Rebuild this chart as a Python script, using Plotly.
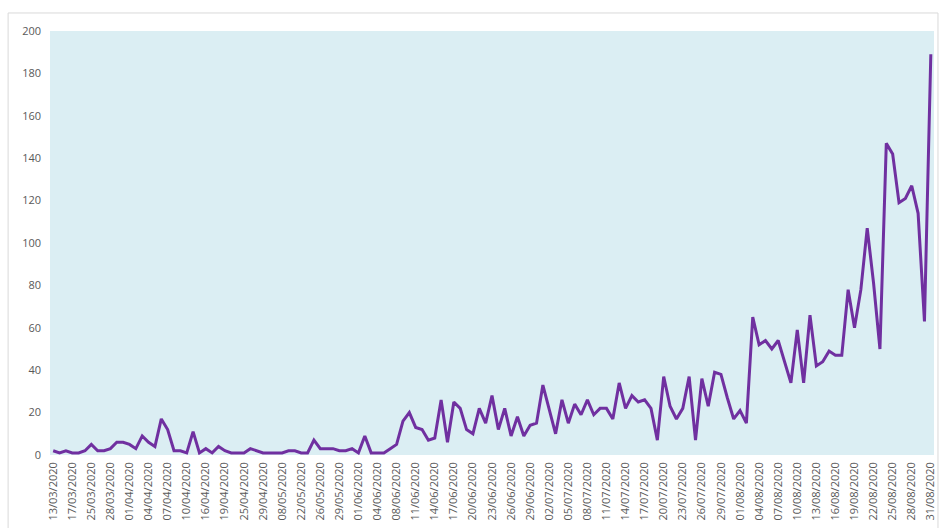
import pandas as pd
import plotly.graph_objects as go

# Reporting dates (irregular until early June, daily afterwards)
early_dates = [
    "13/03/2020", "14/03/2020", "16/03/2020", "17/03/2020", "20/03/2020", "23/03/2020",
    "25/03/2020", "26/03/2020", "27/03/2020", "28/03/2020", "29/03/2020", "31/03/2020",
    "01/04/2020", "02/04/2020", "03/04/2020", "04/04/2020", "05/04/2020", "06/04/2020",
    "07/04/2020", "08/04/2020", "09/04/2020", "10/04/2020", "12/04/2020", "14/04/2020",
    "16/04/2020", "17/04/2020", "18/04/2020", "19/04/2020", "21/04/2020", "23/04/2020",
    "25/04/2020", "26/04/2020", "28/04/2020", "29/04/2020", "02/05/2020", "05/05/2020",
    "08/05/2020", "12/05/2020", "17/05/2020", "22/05/2020", "23/05/2020", "25/05/2020",
    "26/05/2020", "27/05/2020", "28/05/2020", "29/05/2020", "30/05/2020", "31/05/2020",
    "01/06/2020", "02/06/2020", "03/06/2020", "04/06/2020", "05/06/2020", "07/06/2020",
]
daily_dates = [d.strftime("%d/%m/%Y") for d in pd.date_range("2020-06-08", "2020-08-31", freq="D")]
dates = early_dates + daily_dates

# Daily counts
counts = [
    2, 1, 2, 1, 1, 2, 5, 2, 2, 3,
    6, 6, 5, 3, 9, 6, 4, 17, 12, 2,
    2, 1, 11, 1, 3, 1, 4, 2, 1, 1,
    1, 3, 2, 1, 1, 1, 1, 2, 2, 1,
    1, 7, 3, 3, 3, 2, 2, 3, 1, 9,
    1, 1, 1, 3, 5, 16, 20, 13, 12, 7,
    8, 26, 6, 25, 22, 12, 10, 22, 15, 28,
    12, 22, 9, 18, 9, 14, 15, 33, 22, 10,
    26, 15, 24, 19, 26, 19, 22, 22, 17, 34,
    22, 28, 25, 26, 22, 7, 37, 23, 17, 22,
    37, 7, 36, 23, 39, 38, 27, 17, 21, 15,
    65, 52, 54, 50, 54, 44, 34, 59, 34, 66,
    42, 44, 49, 47, 47, 78, 60, 78, 107, 81,
    50, 147, 142, 119, 121, 127, 114, 63, 189,
]

# Every third date is labelled on the axis
tick_labels = dates[::3]

fig = go.Figure(
    go.Scatter(
        x=dates,
        y=counts,
        mode="lines",
        line=dict(color="#7030A0", width=3),
        hoverinfo="x+y",
    )
)

border = dict(color="#d9d9d9", width=1)
fig.update_layout(
    width=944,
    height=528,
    margin=dict(l=50, r=7, t=31, b=73),
    paper_bgcolor="white",
    plot_bgcolor="#DBEEF3",
    showlegend=False,
    font=dict(family="Open Sans", size=11, color="#595959"),
    xaxis=dict(
        type="category",
        range=[-0.5, len(dates) - 0.5],
        tickmode="array",
        tickvals=tick_labels,
        ticktext=tick_labels,
        tickangle=-90,
        showgrid=False,
        showline=False,
        zeroline=False,
        ticks="",
        ticklabelstandoff=4,
    ),
    yaxis=dict(
        range=[0, 200],
        dtick=20,
        showgrid=False,
        showline=False,
        zeroline=False,
        ticks="",
        ticklabelstandoff=8,
    ),
    shapes=[
        dict(type="line", xref="paper", yref="paper", x0=-0.0474, x1=1.0045, y0=1.0425, y1=1.0425, line=border),
        dict(type="line", xref="paper", yref="paper", x0=-0.0474, x1=-0.0474, y0=1.0425, y1=-0.18, line=border),
        dict(type="line", xref="paper", yref="paper", x0=1.0045, x1=1.0045, y0=1.0425, y1=-0.18, line=border),
    ],
)

fig.write_html("out.html")
